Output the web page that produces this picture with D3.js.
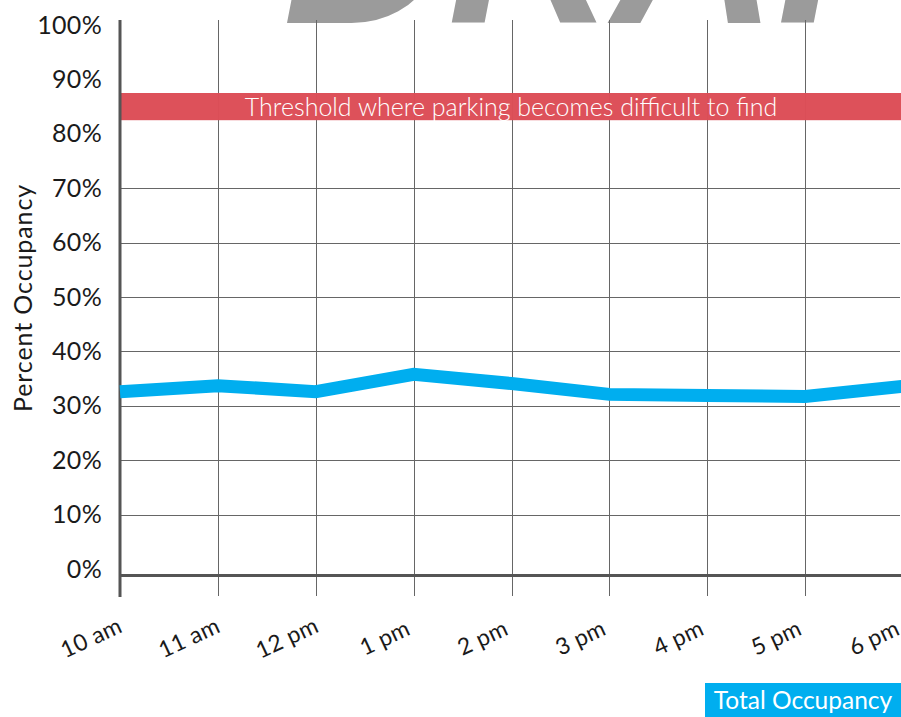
<!DOCTYPE html>
<html>
<head>
<meta charset="utf-8">
<script src="https://cdn.jsdelivr.net/npm/d3@7"></script>
<style>
  html, body { margin: 0; padding: 0; background: #fff; }
  svg { display: block; }
  text { font-family: Lato, "Open Sans", sans-serif; }
</style>
</head>
<body>
<svg id="chart" width="901" height="717"></svg>
<script>
// Hourly occupancy of the parking supply
const hours = ["10 am", "11 am", "12 pm", "1 pm", "2 pm", "3 pm", "4 pm", "5 pm", "6 pm"];
const occupancy = [32.6, 33.7, 32.6, 35.8, 34.1, 32.1, 31.9, 31.7, 33.6];
const yTicks = [0, 10, 20, 30, 40, 50, 60, 70, 80, 90, 100];
const gridValues = [10, 20, 30, 40, 50, 60, 70];
const threshold = [82.5, 87.5];
const thresholdLabel = "Threshold where parking becomes difficult to find";
const seriesName = "Total Occupancy";
const yTitle = "Percent Occupancy";
const watermark = "DRAFT";

const W = 901, H = 717;
const plotLeft = 120, plotRight = 903, plotTop = 20;
const svg = d3.select("#chart");

const x = d3.scalePoint().domain(hours).range([plotLeft, plotRight]);
const y = d3.scaleLinear().domain([0, 100]).range([569, 25]);

const gridColor = "#666";
const axisColor = "#555";
const inkColor = "#1a1a1a";

// watermark
svg.append("text")
  .attr("x", 283).attr("y", 23)
  .style("font-family", "'Liberation Sans', Arial, sans-serif")
  .style("font-weight", "bold")
  .style("font-style", "italic")
  .style("font-size", "228px")
  .attr("fill", "#9b9b9b")
  .text(watermark);

// horizontal grid
svg.append("g").selectAll("line").data(gridValues).join("line")
  .attr("x1", plotLeft).attr("x2", 900)
  .attr("y1", d => Math.round(y(d)) + 0.5).attr("y2", d => Math.round(y(d)) + 0.5)
  .attr("stroke", gridColor).attr("stroke-width", 1);

// vertical grid
svg.append("g").selectAll("line").data(hours.slice(1)).join("line")
  .attr("x1", d => Math.round(x(d)) + 0.5).attr("x2", d => Math.round(x(d)) + 0.5)
  .attr("y1", plotTop).attr("y2", 596)
  .attr("stroke", gridColor).attr("stroke-width", 1);

// threshold band
svg.append("rect")
  .attr("x", plotLeft).attr("width", W - plotLeft)
  .attr("y", y(threshold[1])).attr("height", y(threshold[0]) - y(threshold[1]))
  .attr("fill", "#dc4e57").attr("fill-opacity", 0.98);
svg.append("text")
  .attr("x", (plotLeft + W) / 2 + 0.5)
  .attr("y", (y(threshold[0]) + y(threshold[1])) / 2)
  .attr("dy", "0.36em")
  .attr("text-anchor", "middle")
  .attr("fill", "#fff")
  .style("font-size", "25px")
  .style("font-weight", 300)
  .text(thresholdLabel);

// axes lines
svg.append("line")
  .attr("x1", plotLeft).attr("x2", plotLeft).attr("y1", plotTop).attr("y2", 597)
  .attr("stroke", axisColor).attr("stroke-width", 3);
svg.append("line")
  .attr("x1", plotLeft).attr("x2", W).attr("y1", 575.5).attr("y2", 575.5)
  .attr("stroke", axisColor).attr("stroke-width", 3);

// y axis labels
const yAxis = svg.append("g")
  .attr("transform", "translate(102,0)")
  .call(d3.axisLeft(y).tickValues(yTicks).tickSize(0).tickPadding(0).tickFormat(d => d + "%"));
yAxis.select(".domain").remove();
yAxis.selectAll("text")
  .style("font-family", "Lato, 'Open Sans', sans-serif")
  .style("font-size", "25px")
  .style("letter-spacing", "0.3px")
  .attr("fill", inkColor);

// y title
svg.append("text")
  .attr("transform", "translate(32,298) rotate(-90)")
  .attr("text-anchor", "middle")
  .style("font-size", "25px")
  .style("letter-spacing", "0.9px")
  .attr("fill", inkColor)
  .text(yTitle);

// x axis labels
const xAxis = svg.append("g")
  .call(d3.axisBottom(x).tickSize(0));
xAxis.select(".domain").remove();
xAxis.selectAll("text")
  .attr("x", 0).attr("y", 0).attr("dy", null)
  .attr("transform", "translate(-26,645) rotate(-25)")
  .style("text-anchor", "middle")
  .style("font-family", "Lato, 'Open Sans', sans-serif")
  .style("font-size", "23px")
  .style("letter-spacing", "0.3px")
  .attr("fill", inkColor);

// occupancy line
const line = d3.line().x(d => x(d[0])).y(d => y(d[1]));
svg.append("path")
  .datum(hours.map((h, i) => [h, occupancy[i]]))
  .attr("d", line)
  .attr("fill", "none")
  .attr("stroke", "#00aeef")
  .attr("stroke-width", 13);

// legend
svg.append("rect")
  .attr("x", 705).attr("y", 683).attr("width", W - 705).attr("height", H - 683)
  .attr("fill", "#00aeef");
svg.append("text")
  .attr("x", 803).attr("y", 700)
  .attr("dy", "0.36em")
  .attr("text-anchor", "middle")
  .attr("fill", "#fff")
  .style("font-size", "24.5px")
  .text(seriesName);
</script>
</body>
</html>
